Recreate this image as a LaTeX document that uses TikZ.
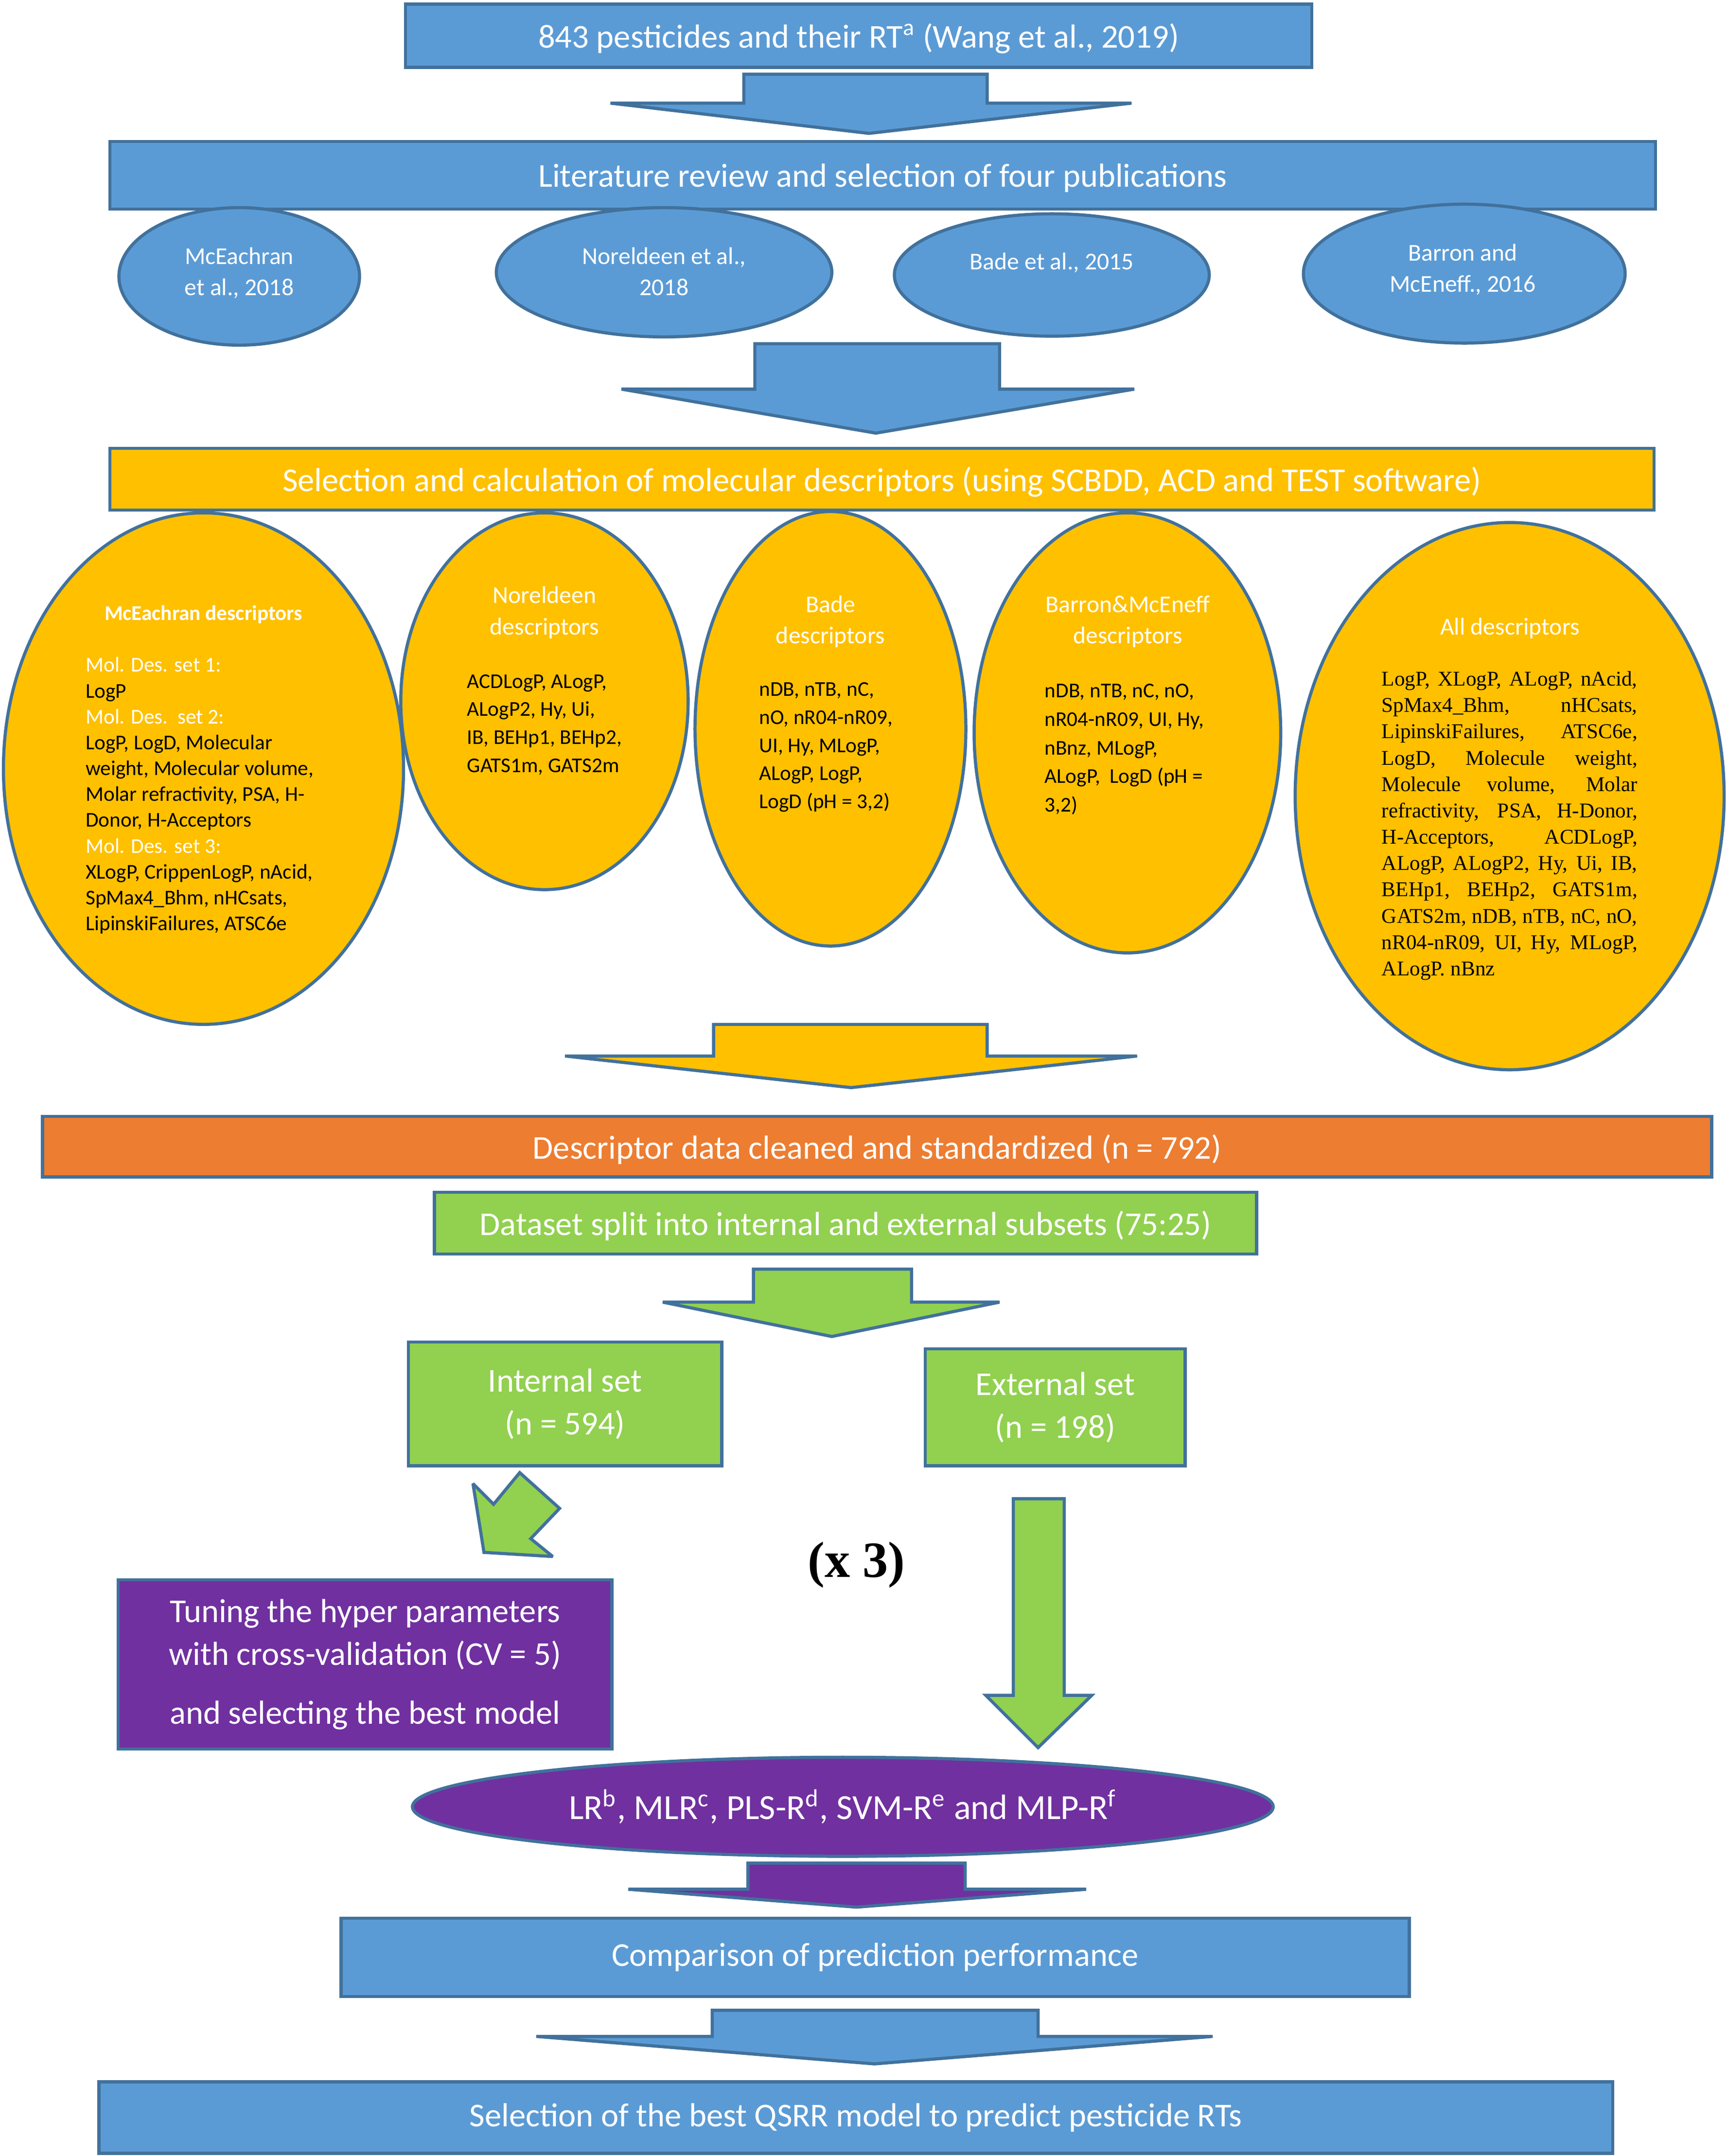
\documentclass[tikz,border=0pt]{standalone}
\usepackage{fontspec}
\setmainfont{Carlito}
\newfontfamily\timesrm{Liberation Serif}
\usetikzlibrary{shapes.geometric}
\definecolor{flowblue}{HTML}{5B9BD5}
\definecolor{edgeblue}{HTML}{41719C}
\definecolor{flowyellow}{HTML}{FFC000}
\definecolor{floworange}{HTML}{ED7D31}
\definecolor{flowgreen}{HTML}{92D050}
\definecolor{flowpurple}{HTML}{7030A0}
\tikzset{
  % boxes of the work flow
  stage/.style={draw=edgeblue, line width=1.3pt, rectangle, text=white, align=center,
    font=\fontsize{13.8}{17.6}\selectfont, inner sep=0pt},
  % one line boxes: centre on the letters, not on the descenders
  oneline/.style={text depth=0pt},
  % ellipses for publications and descriptor sets
  oval/.style={draw=edgeblue, line width=1.3pt, ellipse, inner sep=0pt},
  % white titles inside the ellipses
  small/.style={font=\fontsize{10}{13}\selectfont, text=white, align=center, inner sep=0pt},
  % descriptor lists
  desc/.style={font=\fontsize{8.7}{#1}\selectfont, align=left, inner sep=0pt, anchor=west},
  desc/.default=11.6,
  % block arrows between the stages
  blockarr/.style={draw=edgeblue, line width=1.3pt, line join=miter, miter limit=3},
}
% #1 fill, #2/#3 shaft left/right, #4 top, #5/#6 head left/right, #7 head base, #8/#9 tip
\newcommand{\blockarrow}[9]{%
  \draw[blockarr, fill=#1] (#2,#4) -- (#3,#4) -- (#3,#7) -- (#6,#7) -- (#8,#9)
    -- (#5,#7) -- (#2,#7) -- cycle;}

\begin{document}
\begin{tikzpicture}[x=0.2mm, y=-0.2mm]
  \useasboundingbox (0,0) rectangle (1256,1568);

  % data and literature
  \node[stage, oneline, fill=flowblue, minimum width=131.8mm, minimum height=9.2mm] (data) at (624.5,26)
    {843 pesticides and their RT\textsuperscript{a} (Wang et al., 2019)};
  \blockarrow{flowblue}{541}{718}{54}{444}{823}{75}{632}{97}
  \node[stage, oneline, fill=flowblue, minimum width=224.8mm, minimum height=9.8mm] (lit) at (642,127.5)
    {Literature review and selection of four publications};

  \node[oval, fill=flowblue, minimum width=35mm, minimum height=20mm] (mce) at (174,201) {};
  \node[oval, fill=flowblue, minimum width=48.8mm, minimum height=18.8mm] (nor) at (483,198) {};
  \node[oval, fill=flowblue, minimum width=45.8mm, minimum height=17.8mm] (bade) at (765,200) {};
  \node[oval, fill=flowblue, minimum width=46.8mm, minimum height=20.2mm] (barr) at (1065,199) {};
  \node[small] (mcename) at (174,198.5) {McEachran\\et al., 2018};
  \node[small] (norname) at (483,197.5) {Noreldeen et al.,\\2018};
  \node[small] (badename) at (765,191) {Bade et al., 2015};
  \node[small] (barrname) at (1064,196) {Barron and\\McEneff., 2016};

  \blockarrow{flowblue}{549}{727}{250}{452}{825}{283}{637}{315}

  % descriptors
  \node[stage, oneline, fill=flowyellow, minimum width=224.6mm, minimum height=9mm] (calc) at (641.5,348.5)
    {Selection and calculation of molecular descriptors (using SCBDD, ACD and TEST software)};

  \node[oval, fill=flowyellow, minimum width=58.2mm, minimum height=74.4mm] (mcedesc) at (148,559) {};
  \node[oval, fill=flowyellow, minimum width=41.8mm, minimum height=54.8mm] (nordesc) at (396,510) {};
  \node[oval, fill=flowyellow, minimum width=39.4mm, minimum height=63.2mm] (badedesc) at (604,530) {};
  \node[oval, fill=flowyellow, minimum width=44.6mm, minimum height=64mm] (barrdesc) at (820,533) {};
  \node[oval, fill=flowyellow, minimum width=62.4mm, minimum height=79.6mm] (alldesc) at (1098,579) {};

  \node[small, font=\fontsize{8.7}{10.7}\selectfont\bfseries] (mcetitle) at (148,447) {McEachran descriptors};
  \node[desc=10.7] (mcelist) at (62,578.6) {\textcolor{white}{Mol. Des. set 1:}\\ LogP\\
    \textcolor{white}{Mol. Des.\ \ set 2:}\\ LogP, LogD, Molecular\\ weight, Molecular volume,\\
    Molar refractivity, PSA, H-\\ Donor, H-Acceptors\\ \textcolor{white}{Mol. Des. set 3:}\\
    XLogP, CrippenLogP, nAcid,\\ SpMax4\_Bhm, nHCsats,\\ LipinskiFailures, ATSC6e};

  \node[small] (nortitle) at (396,445.5) {Noreldeen\\descriptors};
  \node[desc] (norlist) at (339.4,527) {ACDLogP, ALogP,\\ ALogP2, Hy, Ui,\\ IB, BEHp1, BEHp2,\\ GATS1m, GATS2m};

  \node[small] (badetitle) at (604,452) {Bade\\descriptors};
  \node[desc] (badelist) at (551.8,543.5) {nDB, nTB, nC,\\ nO, nR04-nR09,\\ UI, Hy, MLogP,\\ ALogP, LogP,\\ LogD (pH = 3,2)};

  \node[small] (barrtitle) at (820.2,452) {Barron\&McEneff\\descriptors};
  \node[desc=11.8] (barrlist) at (759.5,545) {nDB, nTB, nC, nO,\\ nR04-nR09, UI, Hy,\\ nBnz, MLogP,\\ ALogP,\ \ LogD (pH =\\ 3,2)};

  \node[small] (alltitle) at (1098.2,457) {All descriptors};
  \node[desc, font=\timesrm\fontsize{8.7}{10.9}\selectfont] (alllist) at (1004.6,600.5)
    {\makebox[37.2mm][s]{LogP, XLogP, ALogP, nAcid,}\\
     \makebox[37.2mm][s]{SpMax4\_Bhm, nHCsats,}\\
     \makebox[37.2mm][s]{LipinskiFailures, ATSC6e,}\\
     \makebox[37.2mm][s]{LogD, Molecule weight,}\\
     \makebox[37.2mm][s]{Molecule volume, Molar}\\
     \makebox[37.2mm][s]{refractivity, PSA, H-Donor,}\\
     \makebox[37.2mm][s]{H-Acceptors, ACDLogP,}\\
     \makebox[37.2mm][s]{ALogP, ALogP2, Hy, Ui, IB,}\\
     \makebox[37.2mm][s]{BEHp1, BEHp2, GATS1m,}\\
     \makebox[37.2mm][s]{GATS2m, nDB, nTB, nC, nO,}\\
     \makebox[37.2mm][s]{nR04-nR09, UI, Hy, MLogP,}\\
     ALogP. nBnz};

  \blockarrow{flowyellow}{519}{718}{745}{411}{827}{768}{619}{791}

  % cleaning and splitting
  \node[stage, oneline, fill=floworange, minimum width=242.8mm, minimum height=8.8mm] (clean) at (638,834)
    {Descriptor data cleaned and standardized (n = 792)};
  \node[stage, oneline, fill=flowgreen, minimum width=119.6mm, minimum height=9mm] (split) at (615,889.5)
    {Dataset split into internal and external subsets (75:25)};
  \blockarrow{flowgreen}{548}{663}{923}{482}{727}{947}{605}{972}
  \node[stage, fill=flowgreen, minimum width=45.6mm, minimum height=18mm] (internal) at (411,1021)
    {Internal set\\(n = 594)};
  \node[stage, fill=flowgreen, minimum width=37.8mm, minimum height=17mm] (external) at (767.5,1023.5)
    {External set\\(n = 198)};

  % tilted arrow to the tuning box
  \draw[blockarr, fill=flowgreen] (344,1079) -- (359,1094) -- (378,1071) -- (407,1097)
    -- (386,1119) -- (402,1132) -- (352,1129) -- cycle;
  \blockarrow{flowgreen}{737}{774}{1090}{717}{794}{1233}{755}{1271}

  \node[font=\timesrm\fontsize{21}{25}\selectfont\bfseries] (rep) at (623,1138) {(x 3)};

  % models
  \node[stage, fill=flowpurple, minimum width=71.8mm, minimum height=24.6mm] (tune) at (265.5,1210.5)
    {Tuning the hyper parameters\\ with cross-validation (CV = 5)\\[6.8pt] and selecting the best model};
  \node[oval, fill=flowpurple, minimum width=125.2mm, minimum height=14.4mm, text=white,
    font=\fontsize{14.6}{17.6}\selectfont] (models) at (613,1314)
    {LR\textsuperscript{b}, MLR\textsuperscript{c}, PLS-R\textsuperscript{d}, SVM-R\textsuperscript{e} and MLP-R\textsuperscript{f}};
  \blockarrow{flowpurple}{544}{702}{1355}{457}{790}{1374}{623}{1387}

  \node[stage, fill=flowblue, minimum width=155.4mm, minimum height=11.4mm] (compare) at (636.5,1423.5)
    {Comparison of prediction performance};
  \blockarrow{flowblue}{518}{755}{1462}{390}{882}{1481}{636}{1501}
  \node[stage, fill=flowblue, minimum width=220.2mm, minimum height=10.4mm] (best) at (622.5,1540)
    {Selection of the best QSRR model to predict pesticide RTs};
\end{tikzpicture}
\end{document}
